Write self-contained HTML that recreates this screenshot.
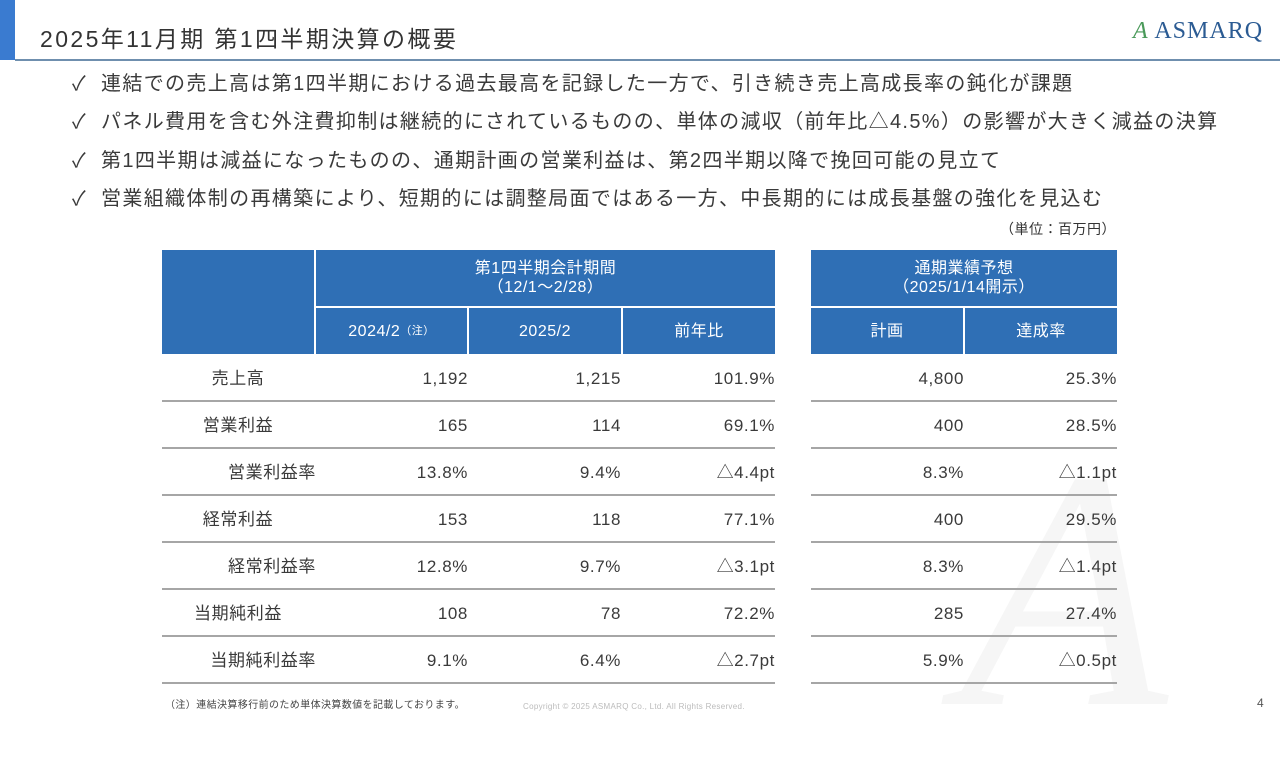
<!DOCTYPE html>
<html><head><meta charset="utf-8">
<style>
body{margin:0;width:1280px;height:720px;position:relative;overflow:hidden;background:#fff;font-family:"Liberation Sans","Noto Sans CJK JP",sans-serif;color:#333}
.a{position:absolute;white-space:nowrap}
.h{background:#2f6fb5;color:#fff;display:flex;align-items:center;justify-content:center;text-align:center;font-size:16px;line-height:19px;position:absolute;letter-spacing:0.5px}
.c{position:absolute;font-size:17px;text-align:right;height:47px;line-height:50px;letter-spacing:0.6px;color:#3a3a3a}
.line{position:absolute;height:2px;background:#a6a6a6}
.b{left:101px;font-size:20px;letter-spacing:1.35px;color:#3a3a3a}
.k{left:72px;font-size:20px;color:#3a3a3a}
</style></head><body>
<div class="a" style="left:960px;top:420px;font:italic 340px 'Liberation Serif',serif;color:#f6f6f6;line-height:340px">A</div>
<div class="a" style="left:0;top:0;width:15px;height:60px;background:#3a7bd0"></div>
<div class="a" style="left:40px;top:20px;font-size:23px;letter-spacing:2.4px;color:#333">2025年11月期 第1四半期決算の概要</div>
<div class="a" style="left:15px;top:59px;width:1265px;height:2px;background:#6f8fae"></div>
<div class="a" style="left:1133px;top:18px;font:24px 'Liberation Serif',serif;color:#2b5b93;letter-spacing:1px"><span style="color:#4a9a5a;font-style:italic">A</span> ASMARQ</div>
<div>
<div class="a k" style="top:67px">✓</div>
<div class="a b" style="top:67px">連結での売上高は第1四半期における過去最高を記録した一方で、引き続き売上高成長率の鈍化が課題</div>
<div class="a k" style="top:105px">✓</div>
<div class="a b" style="top:105px">パネル費用を含む外注費抑制は継続的にされているものの、単体の減収（前年比△4.5%）の影響が大きく減益の決算</div>
<div class="a k" style="top:144px">✓</div>
<div class="a b" style="top:144px">第1四半期は減益になったものの、通期計画の営業利益は、第2四半期以降で挽回可能の見立て</div>
<div class="a k" style="top:182px">✓</div>
<div class="a b" style="top:182px">営業組織体制の再構築により、短期的には調整局面ではある一方、中長期的には成長基盤の強化を見込む</div>
</div>
<div class="a" style="left:1000px;top:219px;font-size:14px;letter-spacing:0.5px">（単位：百万円）</div>

<div class="h" style="left:162px;top:250px;width:152px;height:104px"></div>
<div class="h" style="left:316px;top:250px;width:459px;height:56px">第1四半期会計期間<br>（12/1～2/28）</div>
<div class="h" style="left:316px;top:308px;width:151px;height:46px">2024/2<span style="font-size:11px">（注）</span></div>
<div class="h" style="left:469px;top:308px;width:152px;height:46px">2025/2</div>
<div class="h" style="left:623px;top:308px;width:152px;height:46px">前年比</div>
<div class="h" style="left:811px;top:250px;width:306px;height:56px">通期業績予想<br>（2025/1/14開示）</div>
<div class="h" style="left:811px;top:308px;width:152px;height:46px">計画</div>
<div class="h" style="left:965px;top:308px;width:152px;height:46px">達成率</div>
<div id="tbl"></div>

<div class="a" style="left:165px;top:696px;font-size:10px;color:#444;letter-spacing:0.4px">（注）連結決算移行前のため単体決算数値を記載しております。</div>
<div class="a" style="left:523px;top:702px;font-size:8px;color:#bbb;letter-spacing:0.3px">Copyright © 2025 ASMARQ Co., Ltd. All Rights Reserved.</div>
<div class="a" style="left:1257px;top:696px;font-size:12px;color:#555">4</div>
<script>
const labels=["売上高","営業利益","営業利益率","経常利益","経常利益率","当期純利益","当期純利益率"];
const isRatio=[false,false,true,false,true,false,true];
const col2024=["1,192","165","13.8%","153","12.8%","108","9.1%"];
const col2025=["1,215","114","9.4%","118","9.7%","78","6.4%"];
const colYoy=["101.9%","69.1%","△4.4pt","77.1%","△3.1pt","72.2%","△2.7pt"];
const colPlan=["4,800","400","8.3%","400","8.3%","285","5.9%"];
const colAch=["25.3%","28.5%","△1.1pt","29.5%","△1.4pt","27.4%","△0.5pt"];
const t=document.getElementById('tbl');
function cell(txt,right,top,name){const d=document.createElement('div');d.className='c';d.style.left=(right-150)+'px';d.style.width='150px';d.style.top=top+'px';d.textContent=txt;


t.appendChild(d);}
labels.forEach((l,i)=>{const top=354+i*47;
const d=document.createElement('div');d.className='c';d.textContent=l;d.style.top=top+'px';
if(isRatio[i]){d.style.left='166px';d.style.width='150px';}else{d.style.left='163px';d.style.width='150px';d.style.textAlign='center';}


t.appendChild(d);
cell(col2024[i],468,top,'value-2024');cell(col2025[i],621,top,'value-2025');cell(colYoy[i],775,top,'value-yoy');
cell(colPlan[i],964,top,'value-plan');cell(colAch[i],1117,top,'value-achievement');
const l1=document.createElement('div');l1.className='line';l1.style.left='162px';l1.style.width='613px';l1.style.top=(top+46)+'px';


t.appendChild(l1);
const l2=document.createElement('div');l2.className='line';l2.style.left='811px';l2.style.width='306px';l2.style.top=(top+46)+'px';


t.appendChild(l2);});
</script>
</body></html>
